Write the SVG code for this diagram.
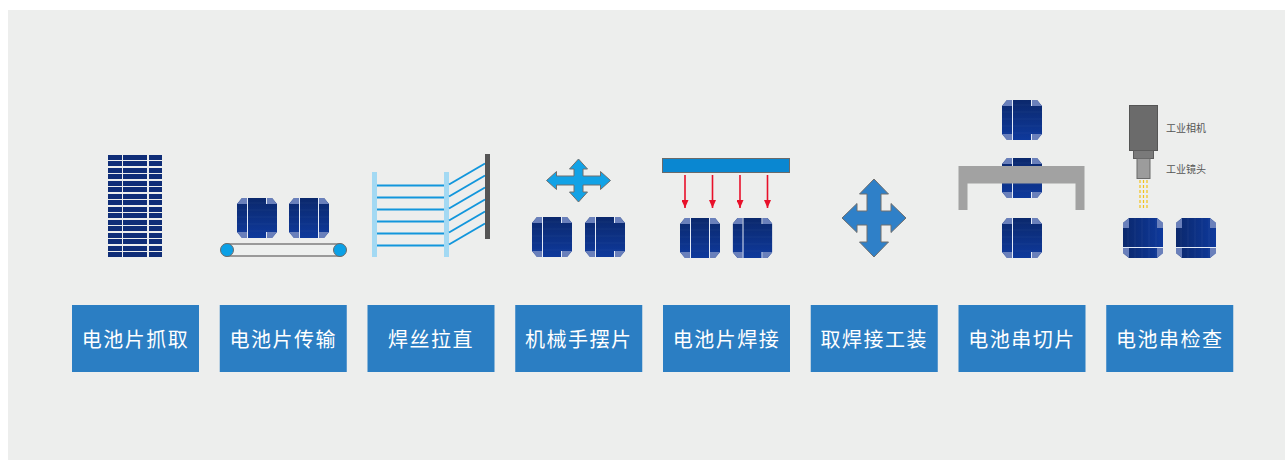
<svg xmlns="http://www.w3.org/2000/svg" xmlns:xlink="http://www.w3.org/1999/xlink" width="1285" height="460" viewBox="0 0 1285 460">
  <style>
    .label-box { fill: #2b7ec3; }
    .label { fill: #ffffff; font-family: "Noto Sans CJK SC", "Noto Sans", sans-serif; font-size: 20px; font-weight: 400; letter-spacing: 1.5px; text-anchor: middle; dominant-baseline: central; }
    .grid { fill: #0f2d77; }
    .wire { stroke: #1296dc; stroke-width: 2; }
    .rail { fill: #a3d9f3; }
    .drop { stroke: #e8102a; stroke-width: 1.6; }
    .beam { stroke: #f2c21a; stroke-width: 1.2; stroke-dasharray: 3 2; }
    .note { fill: #555555; font-family: "Noto Sans CJK SC", "Noto Sans", sans-serif; font-size: 10px; }
  </style>
  <defs>
    <linearGradient id="cellGrad" x1="0" y1="0" x2="0" y2="1">
      <stop offset="0" stop-color="#0b286c"/>
      <stop offset="1" stop-color="#0e399c"/>
    </linearGradient>
    <clipPath id="cellClip">
      <polygon points="5,0 35,0 40,6 40,34 35,40 5,40 0,34 0,6"/>
    </clipPath>
    <!-- solar cell, 40x40, busbars vertical -->
    <g id="cell">
      <g clip-path="url(#cellClip)">
        <rect width="40" height="40" fill="url(#cellGrad)"/>
        <g stroke="#ffffff" stroke-opacity="0.04" stroke-width="1">
          <line x1="0" y1="5" x2="40" y2="5"/>
          <line x1="0" y1="12" x2="40" y2="12"/>
          <line x1="0" y1="19" x2="40" y2="19"/>
          <line x1="0" y1="26" x2="40" y2="26"/>
          <line x1="0" y1="33" x2="40" y2="33"/>
        </g>
        <g fill="#6a80bb">
          <rect x="0" y="0" width="10" height="6"/>
          <rect x="30" y="0" width="10" height="6"/>
          <rect x="0" y="34" width="10" height="6"/>
          <rect x="30" y="34" width="10" height="6"/>
        </g>
        <g stroke="#e4ebf7" stroke-width="1">
          <line x1="10.5" y1="0" x2="10.5" y2="40"/>
          <line x1="29.5" y1="0" x2="29.5" y2="6"/>
          <line x1="29.5" y1="34" x2="29.5" y2="40"/>
        </g>
      </g>
    </g>
    <!-- solar cell turned a quarter, busbar horizontal -->
    <g id="cellSide">
      <g transform="rotate(-90 20 20)">
        <g clip-path="url(#cellClip)">
          <rect width="40" height="40" fill="url(#cellGrad)"/>
          <g stroke="#ffffff" stroke-opacity="0.06" stroke-width="1">
            <line x1="0" y1="5" x2="40" y2="5"/>
            <line x1="0" y1="12" x2="40" y2="12"/>
            <line x1="0" y1="19" x2="40" y2="19"/>
            <line x1="0" y1="26" x2="40" y2="26"/>
            <line x1="0" y1="33" x2="40" y2="33"/>
          </g>
          <g fill="#6a80bb">
            <rect x="0" y="0" width="10" height="6"/>
            <rect x="30" y="0" width="10" height="6"/>
            <rect x="0" y="34" width="10" height="6"/>
            <rect x="30" y="34" width="10" height="6"/>
          </g>
          <g stroke="#e4ebf7" stroke-width="1">
            <line x1="10.5" y1="0" x2="10.5" y2="40"/>
          </g>
        </g>
      </g>
    </g>
    <marker id="redHead" viewBox="0 0 8 7" refX="8" refY="3.5" markerWidth="8" markerHeight="7" markerUnits="userSpaceOnUse" orient="auto">
      <polygon points="0,0 8,3.5 0,7" fill="#e8102a"/>
    </marker>
  </defs>

  <!-- backdrop -->
  <rect width="1285" height="460" fill="#ffffff"/>
  <rect x="8" y="10" width="1277" height="450" fill="#edeeed"/>

  <!-- 1: picking cells -->
  <g id="step-pick">
    <g class="grid">
      <rect x="108" y="155" width="14" height="5"/><rect x="123" y="155" width="24" height="5"/><rect x="149" y="155" width="13" height="5"/>
      <rect x="108" y="161" width="14" height="5"/><rect x="123" y="161" width="24" height="5"/><rect x="149" y="161" width="13" height="5"/>
      <rect x="108" y="168" width="14" height="5"/><rect x="123" y="168" width="24" height="5"/><rect x="149" y="168" width="13" height="5"/>
      <rect x="108" y="174" width="14" height="5"/><rect x="123" y="174" width="24" height="5"/><rect x="149" y="174" width="13" height="5"/>
      <rect x="108" y="181" width="14" height="5"/><rect x="123" y="181" width="24" height="5"/><rect x="149" y="181" width="13" height="5"/>
      <rect x="108" y="187" width="14" height="5"/><rect x="123" y="187" width="24" height="5"/><rect x="149" y="187" width="13" height="5"/>
      <rect x="108" y="194" width="14" height="5"/><rect x="123" y="194" width="24" height="5"/><rect x="149" y="194" width="13" height="5"/>
      <rect x="108" y="200" width="14" height="5"/><rect x="123" y="200" width="24" height="5"/><rect x="149" y="200" width="13" height="5"/>
      <rect x="108" y="207" width="14" height="5"/><rect x="123" y="207" width="24" height="5"/><rect x="149" y="207" width="13" height="5"/>
      <rect x="108" y="213" width="14" height="5"/><rect x="123" y="213" width="24" height="5"/><rect x="149" y="213" width="13" height="5"/>
      <rect x="108" y="220" width="14" height="5"/><rect x="123" y="220" width="24" height="5"/><rect x="149" y="220" width="13" height="5"/>
      <rect x="108" y="226" width="14" height="5"/><rect x="123" y="226" width="24" height="5"/><rect x="149" y="226" width="13" height="5"/>
      <rect x="108" y="233" width="14" height="5"/><rect x="123" y="233" width="24" height="5"/><rect x="149" y="233" width="13" height="5"/>
      <rect x="108" y="239" width="14" height="5"/><rect x="123" y="239" width="24" height="5"/><rect x="149" y="239" width="13" height="5"/>
      <rect x="108" y="246" width="14" height="5"/><rect x="123" y="246" width="24" height="5"/><rect x="149" y="246" width="13" height="5"/>
      <rect x="108" y="252" width="14" height="5"/><rect x="123" y="252" width="24" height="5"/><rect x="149" y="252" width="13" height="5"/>
    </g>
    <rect class="label-box" x="72" y="305" width="127" height="67"/>
    <text class="label" x="135.5" y="338.5">电池片抓取</text>
  </g>

  <!-- 2: conveying cells -->
  <g id="step-convey">
    <use xlink:href="#cell" x="237" y="198"/>
    <use xlink:href="#cell" x="289" y="198"/>
    <line x1="318.5" y1="198" x2="318.5" y2="238" stroke="#e4ebf7" stroke-width="1"/>
    <rect x="222" y="244" width="123" height="12" rx="6" fill="#eef0ef" stroke="#9a9a9a" stroke-width="2"/>
    <circle cx="227" cy="250" r="6.5" fill="#0ba0e6" stroke="#6b6b6b" stroke-width="1"/>
    <circle cx="340" cy="250" r="6.5" fill="#0ba0e6" stroke="#6b6b6b" stroke-width="1"/>
    <rect class="label-box" x="219.75" y="305" width="127" height="67"/>
    <text class="label" x="283.25" y="338.5">电池片传输</text>
  </g>

  <!-- 3: straightening ribbon -->
  <g id="step-straighten">
    <rect class="rail" x="372" y="172" width="5" height="85"/>
    <rect class="rail" x="444" y="172" width="5" height="85"/>
    <g class="wire">
      <line x1="377" y1="185.5" x2="444" y2="185.5"/>
      <line x1="377" y1="197.5" x2="444" y2="197.5"/>
      <line x1="377" y1="209.5" x2="444" y2="209.5"/>
      <line x1="377" y1="221.5" x2="444" y2="221.5"/>
      <line x1="377" y1="233.5" x2="444" y2="233.5"/>
      <line x1="377" y1="245.5" x2="444" y2="245.5"/>
      <line x1="449" y1="184.5" x2="485" y2="163.5"/>
      <line x1="449" y1="196.5" x2="485" y2="175.5"/>
      <line x1="449" y1="208.5" x2="485" y2="187.5"/>
      <line x1="449" y1="220.5" x2="485" y2="199.5"/>
      <line x1="449" y1="232.5" x2="485" y2="211.5"/>
      <line x1="449" y1="244.5" x2="485" y2="223.5"/>
    </g>
    <rect x="485" y="154" width="5" height="85" fill="#555555"/>
    <rect class="label-box" x="367.5" y="305" width="127" height="67"/>
    <text class="label" x="431" y="338.5">焊丝拉直</text>
  </g>

  <!-- 4: robot placing cells -->
  <g id="step-place">
    <polygon transform="translate(578.5 180.5)" fill="#12a2e6" stroke="#6e6e6e" stroke-width="1" points="0,-21.5 9,-11.5 4.5,-11.5 4.5,-4.5 22,-4.5 22,-9 32,0 22,9 22,4.5 4.5,4.5 4.5,11.5 9,11.5 0,21.5 -9,11.5 -4.5,11.5 -4.5,4.5 -22,4.5 -22,9 -32,0 -22,-9 -22,-4.5 -4.5,-4.5 -4.5,-11.5 -9,-11.5"/>
    <use xlink:href="#cell" x="532" y="217"/>
    <use xlink:href="#cell" x="585" y="217"/>
    <rect class="label-box" x="515.25" y="305" width="127" height="67"/>
    <text class="label" x="578.75" y="338.5">机械手摆片</text>
  </g>

  <!-- 5: welding cells -->
  <g id="step-weld">
    <rect x="662.5" y="158.5" width="127" height="14" fill="#0a87d1" stroke="#6a6a6a" stroke-width="1"/>
    <line class="drop" x1="685" y1="175" x2="685" y2="208" marker-end="url(#redHead)"/>
    <line class="drop" x1="712.5" y1="175" x2="712.5" y2="208" marker-end="url(#redHead)"/>
    <line class="drop" x1="740" y1="175" x2="740" y2="208" marker-end="url(#redHead)"/>
    <line class="drop" x1="767.5" y1="175" x2="767.5" y2="208" marker-end="url(#redHead)"/>
    <use xlink:href="#cell" x="680" y="218"/>
    <use xlink:href="#cell" x="732.5" y="218"/>
    <line x1="709.5" y1="218" x2="709.5" y2="258" stroke="#e4ebf7" stroke-width="1"/>
    <rect class="label-box" x="663" y="305" width="127" height="67"/>
    <text class="label" x="726.5" y="338.5">电池片焊接</text>
  </g>

  <!-- 6: unloading the welding fixture -->
  <g id="step-fixture">
    <polygon transform="translate(874 218)" fill="#2f80c8" stroke="#6e6e6e" stroke-width="1" points="0,-39 14.5,-24 7,-24 7,-7 17,-7 17,-14.5 32,0 17,14.5 17,7 7,7 7,24 14.5,24 0,39 -14.5,24 -7,24 -7,7 -17,7 -17,14.5 -32,0 -17,-14.5 -17,-7 -7,-7 -7,-24 -14.5,-24"/>
    <rect class="label-box" x="810.75" y="305" width="127" height="67"/>
    <text class="label" x="874.25" y="338.5">取焊接工装</text>
  </g>

  <!-- 7: cutting the string -->
  <g id="step-cut">
    <use xlink:href="#cell" x="1002" y="100"/>
    <use xlink:href="#cell" x="1002" y="158"/>
    <use xlink:href="#cell" x="1002" y="218"/>
    <path d="M958.5 166 H1084.5 V210 H1075.5 V183.5 H967.5 V210 H958.5 Z" fill="#a2a2a2"/>
    <rect class="label-box" x="958.5" y="305" width="127" height="67"/>
    <text class="label" x="1022" y="338.5">电池串切片</text>
  </g>

  <!-- 8: string inspection -->
  <g id="step-inspect">
    <rect x="1129.5" y="105.5" width="28" height="45" fill="#6b6b6b" stroke="#555555" stroke-width="1"/>
    <rect x="1133.5" y="150.5" width="20" height="8" fill="#7a7a7a" stroke="#5c5c5c" stroke-width="1"/>
    <rect x="1137" y="158.5" width="13" height="20" fill="#9c9c9c" stroke="#6a6a6a" stroke-width="1"/>
    <line class="beam" x1="1140" y1="180" x2="1140" y2="209"/>
    <line class="beam" x1="1143.5" y1="180" x2="1143.5" y2="209"/>
    <line class="beam" x1="1147" y1="180" x2="1147" y2="209"/>
    <text class="note" x="1166" y="132">工业相机</text>
    <text class="note" x="1166" y="173">工业镜头</text>
    <use xlink:href="#cellSide" x="1123" y="218"/>
    <use xlink:href="#cellSide" x="1176" y="218"/>
    <rect class="label-box" x="1106.25" y="305" width="127" height="67"/>
    <text class="label" x="1169.75" y="338.5">电池串检查</text>
  </g>
</svg>
